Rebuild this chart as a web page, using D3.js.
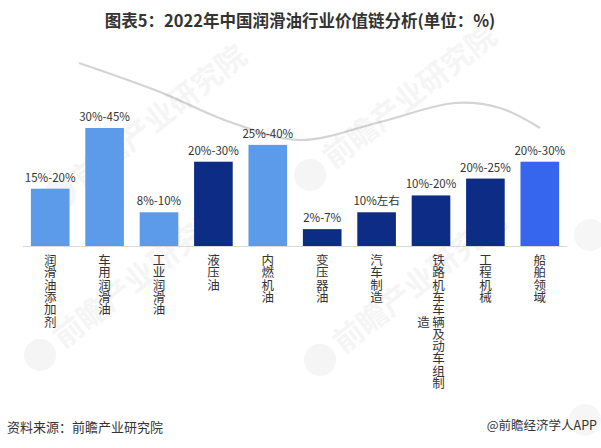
<!DOCTYPE html>
<html><head><meta charset="utf-8">
<script src="https://cdn.jsdelivr.net/npm/d3@7"></script>
<style>
html,body{margin:0;padding:0;background:#fff;}
svg{display:block;font-family:"Liberation Sans","Noto Sans CJK SC",sans-serif;}
</style></head>
<body><svg id="c" width="601" height="448"></svg>
<script>
const categories = ["润滑油添加剂","车用润滑油","工业润滑油","液压油","内燃机油","变压器油","汽车制造","铁路机车车辆及动车组制造","工程机械","船舶领域"];
const valueLabels = ["15%-20%","30%-45%","8%-10%","20%-30%","25%-40%","2%-7%","10%左右","10%-20%","20%-25%","20%-30%"];
const barHeights = [3.4, 7, 2, 5, 6, 1, 2, 3, 4, 5];
const colorGroup = ["light","light","light","dark","light","dark","dark","dark","dark","bright"];
const title = "图表5：2022年中国润滑油行业价值链分析(单位：%)";
const source = "资料来源：前瞻产业研究院";
const credit = "@前瞻经济学人APP";

(function(){
const colors = {light:"#5b9be9", dark:"#0d2c85", bright:"#3766ee"};
const svg = d3.select("#c");
const cjk = '"Noto Sans CJK SC","Liberation Sans",sans-serif';

// decorative curve
const curvePts = [[79,63],[160,92],[230,122],[300,140],[380,122],[455,103],[500,108],[540,128]];
svg.append("path").attr("d", d3.line().curve(d3.curveCatmullRom)(curvePts))
  .attr("fill","none").attr("stroke","#d4d4d4").attr("stroke-width",2.2);

// faint watermarks
const wm = [[60,195,true],[310,175,true],[40,355,true],[320,360,true],[590,235,false],[585,420,false]];
wm.forEach(([wx,wy,withText])=>{
  const g = svg.append("g").attr("transform",`translate(${wx},${wy}) rotate(-38)`).attr("opacity",0.055);
  g.append("circle").attr("cx",0).attr("cy",0).attr("r",16).attr("fill","#555");
  if (withText) g.append("text").attr("x",22).attr("y",10).attr("font-size",30).attr("font-weight","bold")
    .attr("font-family",cjk).attr("fill","#555").text("前瞻产业研究院");
});

// title
svg.append("text").attr("x",300).attr("y",27).attr("text-anchor","middle")
  .attr("font-size",16.5).attr("font-weight","bold").attr("fill","#333")
  .attr("font-family",cjk).text(title);

const x = d3.scaleBand().domain(categories).range([23,567]).paddingInner(0.29).paddingOuter(0.145);
const y = d3.scaleLinear().domain([0,7]).range([246,128]);

svg.append("line").attr("x1",23).attr("x2",567).attr("y1",246.5).attr("y2",246.5)
  .attr("stroke","#d9d9d9").attr("stroke-width",1);

svg.selectAll("rect.bar").data(categories).join("rect").attr("class","bar")
  .attr("x",d=>x(d)).attr("width",x.bandwidth())
  .attr("y",(d,i)=>y(barHeights[i])).attr("height",(d,i)=>y(0)-y(barHeights[i]))
  .attr("fill",(d,i)=>colors[colorGroup[i]]);

svg.selectAll("text.vl").data(categories).join("text").attr("class","vl")
  .attr("x",d=>x(d)+x.bandwidth()/2).attr("y",(d,i)=>y(barHeights[i])-7)
  .attr("text-anchor","middle").attr("font-size",11.5).attr("fill","#333")
  .attr("font-family",cjk)
  .text((d,i)=>valueLabels[i]);

// vertical category labels, one character per line
const maxPerCol = 11, lineH = 12.3, colW = 15, fs = 12.5, labelTop = 255;
categories.forEach((c)=>{
  const chars = Array.from(c);
  const cols = [];
  for (let k=0;k<chars.length;k+=maxPerCol) cols.push(chars.slice(k,k+maxPerCol));
  const cx = x(c)+x.bandwidth()/2;
  const n = cols.length;
  const firstH = cols[0].length*lineH;
  cols.forEach((col,ci)=>{
    const colX = cx + ((n-1)/2 - ci)*colW;
    const h = col.length*lineH;
    const startY = labelTop + (firstH - h)/2;
    const t = svg.append("text").attr("text-anchor","middle").attr("font-size",fs)
      .attr("fill","#333").attr("font-family",cjk);
    col.forEach((ch,j)=>{
      t.append("tspan").attr("x",colX).attr("y",startY + j*lineH + lineH*0.82).text(ch);
    });
  });
});

svg.append("text").attr("x",7).attr("y",432).attr("font-size",13).attr("fill","#333")
  .attr("font-family",cjk).text(source);
svg.append("text").attr("x",597).attr("y",430).attr("text-anchor","end").attr("font-size",12.5)
  .attr("fill","#333").attr("font-family",cjk).text(credit);
})();
</script></body></html>
